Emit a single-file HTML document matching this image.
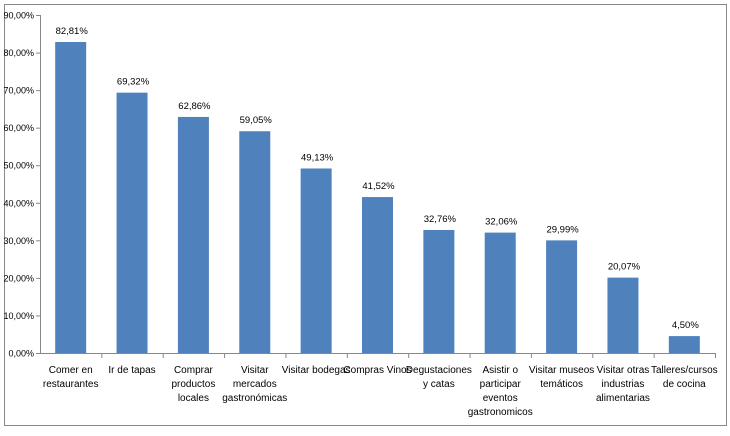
<!DOCTYPE html>
<html><head><meta charset="utf-8"><style>
body{margin:0;background:#fff;}
svg text{font-family:"Liberation Sans",sans-serif;fill:#000;}
</style></head><body>
<svg id="c" width="730" height="431" xmlns="http://www.w3.org/2000/svg">
<rect x="4.5" y="4.5" width="722" height="421" fill="#fff" stroke="#888" stroke-width="1"/>
<g id="g"></g>
</svg>
<script>
const categories=[["Comer en","restaurantes"],["Ir de tapas"],["Comprar","productos","locales"],["Visitar","mercados","gastronómicas"],["Visitar bodegas"],["Compras Vinos"],["Degustaciones","y catas"],["Asistir o","participar","eventos","gastronomicos"],["Visitar museos","temáticos"],["Visitar otras","industrias","alimentarias"],["Talleres/cursos","de cocina"]];
const values=[82.81,69.32,62.86,59.05,49.13,41.52,32.76,32.06,29.99,20.07,4.50];
const yTicks=[0,10,20,30,40,50,60,70,80,90];
const x0=40,x1=715,yTop=15,yBot=353,yMax=90;
const band=(x1-x0)/categories.length;
const y=v=>yBot-(v/yMax)*(yBot-yTop);
const ns="http://www.w3.org/2000/svg";
const g=document.getElementById('g');
function mk(t,a){const e=document.createElementNS(ns,t);for(const k in a)e.setAttribute(k,a[k]);g.appendChild(e);return e;}
const fmt=v=>v.toFixed(2).replace('.',',')+'%';
let ax=mk('line',{x1:x0+0.5,y1:yTop,x2:x0+0.5,y2:yBot,stroke:'#888'});


let bx=mk('line',{x1:x0,y1:yBot+0.5,x2:x1,y2:yBot+0.5,stroke:'#888'});


yTicks.forEach(t=>{
  const yy=y(t);
  mk('line',{x1:x0-4,y1:yy+0.5,x2:x0,y2:yy+0.5,stroke:'#888'});
  const tx=mk('text',{x:x0-6,y:yy+3.5,'text-anchor':'end','font-size':'9'});
  tx.textContent=fmt(t);
  
  
});
categories.forEach((c,i)=>{
  const xs=x0+band*i;
  mk('line',{x1:xs+band+0.5,y1:yBot,x2:xs+band+0.5,y2:yBot+5,stroke:'#888'});
  const cx=xs+band/2,w=31;
  const r=mk('rect',{x:cx-w/2,y:y(values[i]),width:w,height:yBot-y(values[i]),fill:'#4f81bd'});
  
  
  const lb=mk('text',{x:cx+1,y:y(values[i])-8,'text-anchor':'middle','font-size':'9.5'});
  lb.textContent=fmt(values[i]);
  
  
  c.forEach((ln,j)=>{
    const t=mk('text',{x:cx,y:373+j*14,'text-anchor':'middle','font-size':'10'});
    t.textContent=ln;
    
    
  });
});
</script>
</body></html>
